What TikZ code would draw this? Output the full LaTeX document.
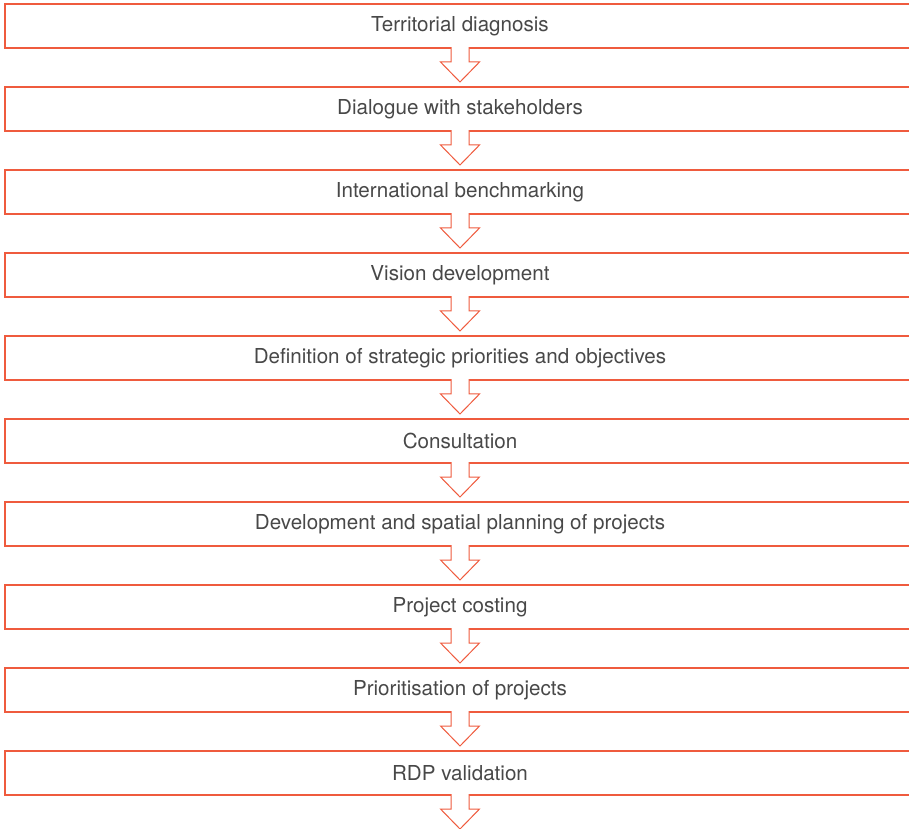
\documentclass[tikz,border=0pt]{standalone}
\usepackage{fontspec}
\setmainfont{TeX Gyre Heros}
\usetikzlibrary{positioning, calc}
\definecolor{rdporange}{HTML}{EF5B3E}
\definecolor{rdptext}{HTML}{484848}

\begin{document}
\begin{tikzpicture}[
  x=1pt, y=1pt,
  stage/.style={minimum width=910pt, minimum height=44pt, inner sep=0pt, outer sep=0pt, text=rdptext, font=\fontsize{20.6}{24}\selectfont},
  frame/.style={draw=rdporange, line width=1.3pt},
  flow/.style={draw=rdporange, line width=1pt, fill=white}
]
\useasboundingbox (0,0) rectangle (909,828);

\node[stage] (b1) at (460,802) {Territorial diagnosis};
\node[stage, below=39pt of b1] (b2) {Dialogue with stakeholders};
\node[stage, below=39pt of b2] (b3) {International benchmarking};
\node[stage, below=39pt of b3] (b4) {Vision development};
\node[stage, below=39pt of b4] (b5) {Definition of strategic priorities and objectives};
\node[stage, below=39pt of b5] (b6) {Consultation};
\node[stage, below=39pt of b6] (b7) {Development and spatial planning of projects};
\node[stage, below=39pt of b7] (b8) {Project costing};
\node[stage, below=39pt of b8] (b9) {Prioritisation of projects};
\node[stage, below=39pt of b9] (b10) {RDP validation};

% frames open to the right, hollow arrows hanging under each stage
\foreach \i in {1,...,10} {
  \draw[frame] ($(b\i.north east)+(-6,0)$) -- (b\i.north west)
    -- (b\i.south west) -- ($(b\i.south east)+(-6,0)$);
  \path[flow] ($(b\i.south)+(-9,0.9)$) -- ++(0,-14.9) -- ++(-10.5,0)
    -- ++(19.5,-20) -- ++(19.5,20) -- ++(-10.5,0) -- ++(0,14.9);
}
\end{tikzpicture}
\end{document}
